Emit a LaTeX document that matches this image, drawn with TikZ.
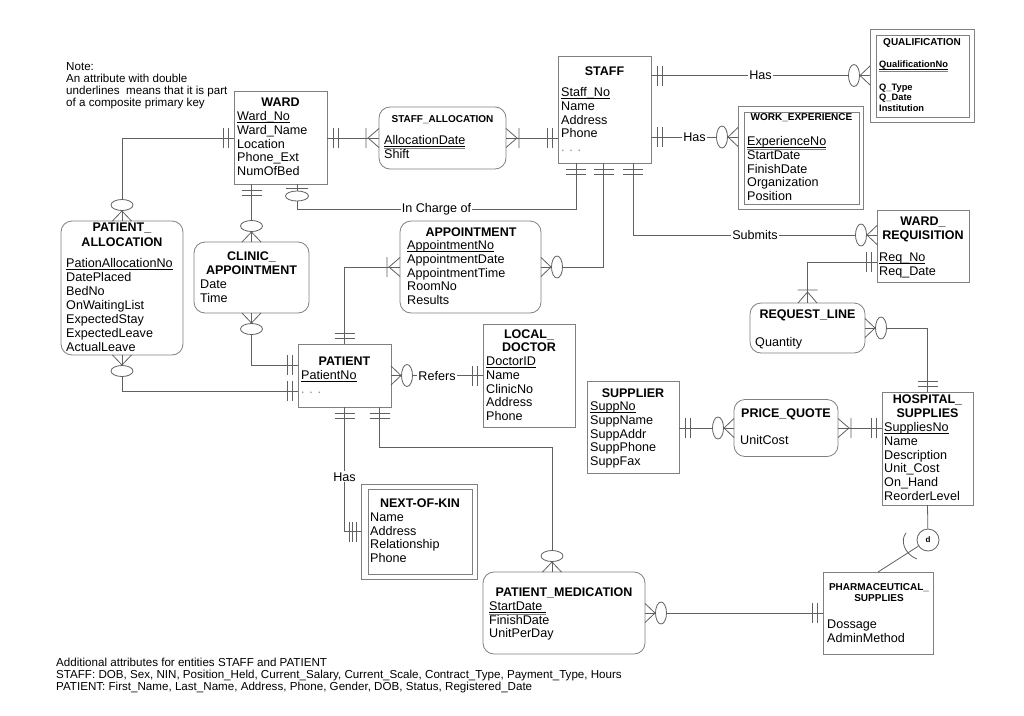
\documentclass[tikz,border=0pt]{standalone}
\usepackage{fontspec}
\setmainfont{Liberation Sans}
\usetikzlibrary{calc}
\definecolor{boxc}{HTML}{808080}
\definecolor{connc}{HTML}{606060}
\newcommand\myul[1]{\setbox0\hbox{#1}\rlap{\rule[-1.8pt]{\wd0}{0.7pt}}\box0}
\newcommand\myuul[1]{\setbox0\hbox{#1}\rlap{\rule[-1.8pt]{\wd0}{0.7pt}}\rlap{\textcolor{boxc}{\rule[-4.3pt]{\wd0}{0.7pt}}}\box0}
\tikzset{
  conn/.style={draw=connc, line width=0.8pt},
  ent/.style={draw=boxc, line width=0.8pt, rectangle, inner sep=0pt, outer sep=0pt},
  rent/.style={ent, rounded corners=11pt},
  attr/.style={inner sep=0pt, font=\fontsize{12.6pt}{14pt}\selectfont},
  ttl/.style={inner sep=0pt, anchor=base, font=\bfseries\fontsize{12.5pt}{14pt}\selectfont},
  sttl/.style={ttl, font=\bfseries\fontsize{10pt}{12pt}\selectfont},
  lbl/.style={fill=white, inner sep=1pt, font=\fontsize{12.6pt}{14pt}\selectfont},
  notetxt/.style={font=\fontsize{11.6pt}{13pt}\selectfont},
  qat/.style={font=\bfseries\fontsize{9.3pt}{11pt}\selectfont},
  mone/.pic={\draw[conn] (6,-10) -- (6,10) (11,-10) -- (11,10);},
  mthree/.pic={\draw[conn] (5,-10) -- (5,10) (8.5,-10) -- (8.5,10) (12,-10) -- (12,10);},
  zone/.pic={\draw[conn] (4,-11) -- (4,11); \draw[conn,fill=white] (12,0) ellipse [x radius=5pt, y radius=11.5pt];},
  zmany/.pic={\draw[conn] (0,-9.5) -- (10,0) -- (0,9.5); \draw[conn,fill=white] (16,0) ellipse [x radius=5.5pt, y radius=11pt];},
  onemany/.pic={\draw[conn] (0,-9.5) -- (11,0) -- (0,9.5) (13,-10) -- (13,10);},
}
\newcommand\attrs[6][]{%
  \foreach \attxt [count=\ai from 0] in {#6} {%
    \node[attr,#1,anchor=base west] (#2-\ai) at (#3,{#4+\ai*#5}) {\attxt};
  }}
\begin{document}
\begin{tikzpicture}[x=1pt,y=-1pt]
\useasboundingbox (0,0) rectangle (1024,715);
\fill[white] (0,0) rectangle (1024,715);

% entity boxes
\node[ent, minimum width=93pt, minimum height=93pt] (ward) at (280.5,137.5) {};
\node[rent, minimum width=127pt, minimum height=62pt] (sa) at (442.5,138) {};
\node[ent, minimum width=93pt, minimum height=107pt] (staff) at (604.5,109.5) {};
\node[ent, minimum width=104pt, minimum height=93pt] (qual) at (922,75.5) {};
\node[ent, minimum width=93pt, minimum height=82pt] (qualin) at (922.5,76) {};
\node[ent, minimum width=125pt, minimum height=103pt] (wexp) at (800.5,157.5) {};
\node[ent, minimum width=115pt, minimum height=92pt] (wexpin) at (801.5,158) {};
\node[rent, minimum width=122pt, minimum height=134pt] (pa) at (122,288) {};
\node[rent, minimum width=115pt, minimum height=71pt] (ca) at (251.5,277.5) {};
\node[rent, minimum width=141pt, minimum height=92pt] (appt) at (470.5,267) {};
\node[ent, minimum width=92pt, minimum height=72pt] (wr) at (923,246) {};
\node[rent, minimum width=115pt, minimum height=50pt] (rl) at (807.5,328) {};
\node[ent, minimum width=93pt, minimum height=63pt] (patient) at (344.5,375.5) {};
\node[ent, minimum width=92pt, minimum height=103pt] (ld) at (529,375.5) {};
\node[ent, minimum width=92pt, minimum height=92pt] (supplier) at (633,427) {};
\node[rent, minimum width=104pt, minimum height=57pt] (pq) at (786,428) {};
\node[ent, minimum width=91pt, minimum height=113pt] (hs) at (927.5,448.5) {};
\node[ent, minimum width=116pt, minimum height=95pt] (nok) at (419,531.5) {};
\node[ent, minimum width=104pt, minimum height=85pt] (nokin) at (420,531.5) {};
\node[rent, minimum width=162pt, minimum height=82pt] (pm) at (564,613) {};
\node[ent, minimum width=110pt, minimum height=82pt] (ps) at (878,613) {};
\node[draw=connc, line width=0.8pt, circle, minimum size=22pt, inner sep=0pt,
      font=\bfseries\fontsize{8pt}{9pt}\selectfont] (d) at (928,540) {d};

% connectors
\draw[conn] (ward.east |- sa.west) -- (sa.west);
\pic at (ward.east |- sa.west) {mone};
\pic[rotate=180] at (sa.west) {onemany};

\draw[conn] (sa.east) -- (sa.east -| staff.west);
\pic at (sa.east) {onemany};
\pic[rotate=180] at (sa.east -| staff.west) {mone};

\draw[conn] (staff.east |- qual.west) -- node[lbl]{Has} (qual.west);
\pic at (staff.east |- qual.west) {mone};
\pic[rotate=180] at (qual.west) {zmany};

\coordinate (wx) at ($(wexp.west)+(0,-20.5)$);
\draw[conn] (staff.east |- wx) -- node[lbl]{Has} (wx);
\pic at (staff.east |- wx) {mone};
\pic[rotate=180] at (wx) {zmany};

\draw[conn] (ward.west |- sa.west) -| (pa.north);
\pic[rotate=180] at (ward.west |- sa.west) {mone};
\pic[rotate=90] at (pa.north) {zmany};

\draw[conn] (ward.south -| ca.north) -- (ca.north);
\pic[rotate=-90] at (ward.south -| ca.north) {mone};
\pic[rotate=90] at (ca.north) {zmany};

\coordinate (icw) at ($(ward.south)+(16.5,0)$);
\coordinate (ics) at ($(staff.south)+(-28.5,0)$);
\draw[conn] (icw) -- ++(0,25) -- node[lbl]{In Charge of} ($(ics)+(0,46)$) -- (ics);
\pic[rotate=-90] at (icw) {zone};
\pic[rotate=-90] at (ics) {mone};

\coordinate (st2) at ($(staff.south)+(-1,0)$);
\draw[conn] (appt.east) -| (st2);
\pic at (appt.east) {zmany};
\pic[rotate=-90] at (st2) {mone};

\coordinate (st3) at ($(staff.south)+(28.5,0)$);
\coordinate (wsub) at ($(wr.west)+(0,-11)$);
\draw[conn] (st3) |- node[lbl,pos=0.75]{Submits} (wsub);
\pic[rotate=-90] at (st3) {mone};
\pic[rotate=180] at (wsub) {zmany};

\coordinate (wrl) at ($(wr.west)+(0,16)$);
\draw[conn] (wrl) -| (rl.north);
\pic[rotate=180] at (wrl) {mone};
\pic[rotate=90] at (rl.north) {onemany};

\draw[conn] (rl.east) -| (hs.north);
\pic at (rl.east) {zmany};
\pic[rotate=90] at (hs.north) {mone};

\draw[conn] (supplier.east |- pq.west) -- (pq.west);
\pic at (supplier.east |- pq.west) {mone};
\pic[rotate=180] at (pq.west) {zmany};

\draw[conn] (pq.east) -- (pq.east -| hs.west);
\pic at (pq.east) {onemany};
\pic[rotate=180] at (pq.east -| hs.west) {mone};

\draw[conn] (hs.south) -- (d);
\draw[conn] (d) -- (ps.north);
\draw[conn] (906,533) .. controls (900,540) and (904,554) .. (917,559);

\draw[conn] (pm.east) -- (ps.west);
\pic at (pm.east) {zmany};
\pic[rotate=180] at (ps.west) {mone};

\coordinate (pb2) at ($(patient.south)+(35,0)$);
\coordinate (pmt) at ($(pm.north)+(-12,0)$);
\draw[conn] (pb2) -- ++(0,40) -| (pmt);
\pic[rotate=-90] at (pb2) {mone};
\pic[rotate=90] at (pmt) {zmany};

\draw[conn] (patient.south) |- node[lbl,pos=0.28]{Has} (nok.west);
\pic[rotate=-90] at (patient.south) {mone};
\pic[rotate=180] at (nok.west) {mthree};

\draw[conn] (patient.north) |- (appt.west);
\pic[rotate=90] at (patient.north) {mone};
\pic[rotate=180] at (appt.west) {onemany};

\coordinate (pl1) at ($(patient.west)+(0,-10.5)$);
\draw[conn] (ca.south) |- (pl1);
\pic[rotate=-90] at (ca.south) {zmany};
\pic[rotate=180] at (pl1) {mone};

\coordinate (pl2) at ($(patient.west)+(0,15.5)$);
\draw[conn] (pa.south) |- (pl2);
\pic[rotate=-90] at (pa.south) {zmany};
\pic[rotate=180] at (pl2) {mone};

\draw[conn] (patient.east) -- node[lbl]{Refers} (ld.west);
\pic at (patient.east) {zmany};
\pic[rotate=180] at (ld.west) {mone};

% texts
\node[ttl] (ward-t) at (280.5,106.5) {WARD};
\attrs{ward}{237}{120.5}{13.75}{\myul{Ward\_No}, Ward\_Name, Location, Phone\_Ext, NumOfBed}

\node[sttl] (sa-t) at (442.5,122.6) {STAFF\_ALLOCATION};
\attrs{sa}{384}{144.5}{13.8}{\myuul{AllocationDate}, Shift}

\node[ttl] (staff-t) at (604.5,75.5) {STAFF};
\attrs{staff}{561}{96.5}{13.8}{\myul{Staff\_No}, Name, Address, Phone, {\color{gray}. . .}}

\node[sttl] (qual-t) at (922,45.6) {QUALIFICATION};
\attrs[qat]{qualk}{879}{67.5}{10}{\myuul{QualificationNo}}
\attrs[qat]{quala}{879}{90.3}{10.4}{Q\_Type, Q\_Date, Institution}

\node[sttl] (wexp-t) at (801.5,120.6) {WORK\_EXPERIENCE};
\attrs{wexp}{747}{145.5}{13.75}{\myuul{ExperienceNo}, StartDate, FinishDate, Organization, Position}

\node[ttl] (pa-t1) at (122,231.5) {PATIENT\_};
\node[ttl] (pa-t2) at (122,246.5) {ALLOCATION};
\attrs{pa}{66}{267.5}{14}{\myul{PationAllocationNo}, DatePlaced, BedNo, OnWaitingList, ExpectedStay, ExpectedLeave, ActualLeave}

\node[ttl] (ca-t1) at (251.5,260.5) {CLINIC\_};
\node[ttl] (ca-t2) at (251.5,274.5) {APPOINTMENT};
\attrs{ca}{200}{288.5}{13.6}{Date, Time}

\node[ttl] (appt-t) at (471,236.5) {APPOINTMENT};
\attrs{appt}{407}{249.5}{13.8}{\myul{AppointmentNo}, AppointmentDate, AppointmentTime, RoomNo, Results}

\node[ttl] (wr-t1) at (923,225.5) {WARD\_};
\node[ttl] (wr-t2) at (923,239.5) {REQUISITION};
\attrs{wr}{879}{261.5}{13.6}{\myul{Req\_No}, Req\_Date}

\node[ttl] (rl-t) at (807.5,318.5) {REQUEST\_LINE};
\attrs{rl}{755}{346.5}{13.8}{Quantity}

\node[ttl] (pat-t) at (344.5,365.5) {PATIENT};
\attrs{pat}{301}{379.5}{13.8}{\myul{PatientNo}, {\color{gray}. . .}}

\node[ttl] (ld-t1) at (529,338.5) {LOCAL\_};
\node[ttl] (ld-t2) at (529,351.5) {DOCTOR};
\attrs{ld}{486}{365.5}{13.75}{\myul{DoctorID}, Name, ClinicNo, Address, Phone}

\node[ttl] (sup-t) at (633,397.5) {SUPPLIER};
\attrs{sup}{590}{410.5}{13.8}{\myul{SuppNo}, SuppName, SuppAddr, SuppPhone, SuppFax}

\node[ttl] (pq-t) at (786,417.5) {PRICE\_QUOTE};
\attrs{pq}{740}{444.5}{13.8}{UnitCost}

\node[ttl] (hs-t1) at (927.5,403.5) {HOSPITAL\_};
\node[ttl] (hs-t2) at (927.5,417.5) {SUPPLIES};
\attrs{hs}{884}{431.5}{13.8}{\myul{SuppliesNo}, Name, Description, Unit\_Cost, On\_Hand, ReorderLevel}

\node[ttl] (nok-t) at (420,507.5) {NEXT-OF-KIN};
\attrs{nok}{370}{521.5}{13.7}{Name, Address, Relationship, Phone}

\node[ttl] (pm-t) at (564,596.5) {PATIENT\_MEDICATION};
\attrs{pm}{489}{610.5}{13.7}{\myuul{StartDate\ }, FinishDate, UnitPerDay}

\node[sttl] (ps-t1) at (879,590.6) {PHARMACEUTICAL\_};
\node[sttl] (ps-t2) at (879,601.6) {SUPPLIES};
\attrs{ps}{827}{628.5}{13.6}{Dossage, AdminMethod}

\attrs[notetxt]{note}{66}{70}{12.2}{Note:, An attribute with double, underlines~ means that it is part, of a composite primary key}
\attrs[notetxt]{add}{56}{666}{12.4}{Additional attributes for entities STAFF and PATIENT, {STAFF: DOB, Sex, NIN, Position\_Held, Current\_Salary, Current\_Scale, Contract\_Type, Payment\_Type, Hours}, {PATIENT: First\_Name, Last\_Name, Address, Phone, Gender, DOB, Status, Registered\_Date}}
\end{tikzpicture}
\end{document}
